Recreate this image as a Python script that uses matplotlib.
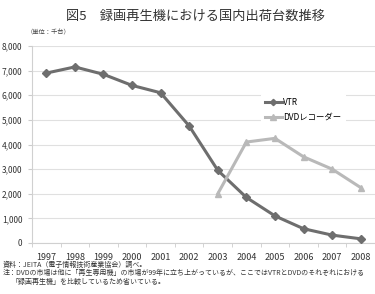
import matplotlib.pyplot as plt
import numpy as np

plt.rcParams['font.family'] = ['Noto Sans CJK JP', 'DejaVu Sans']

years = ['1997', '1998', '1999', '2000', '2001', '2002', '2003', '2004', '2005', '2006', '2007', '2008']
vtr = [6900, 7150, 6850, 6400, 6100, 4750, 2950, 1850, 1100, 580, 320, 170]
dvd_years = ['2003', '2004', '2005', '2006', '2007', '2008']
dvd = [2000, 4100, 4250, 3500, 3000, 2250]

x = np.arange(len(years))
x_dvd = np.array([years.index(y) for y in dvd_years])

fig = plt.figure(figsize=(3.75, 2.94), dpi=100)
ax = fig.add_axes([32/375, 1 - 243/294, 343/375, 197/294])

ax.plot(x, vtr, color='#6e6e6e', lw=2.2, marker='D', ms=4, label='VTR', zorder=3)
ax.plot(x_dvd, dvd, color='#b9b9b9', lw=2.2, marker='^', ms=5, label='DVDレコーダー', zorder=3)

ax.set_xlim(-0.5, len(years) - 0.5)
ax.set_ylim(0, 8000)
ax.set_yticks(np.arange(0, 8001, 1000))
ax.set_yticklabels(['0' if v == 0 else f'{v:,}' for v in range(0, 8001, 1000)])
ax.set_xticks(x)
ax.set_xticklabels(years)
ax.set_xticks(np.arange(-0.5, len(years), 1), minor=True)
ax.tick_params(axis='x', which='major', length=0, labelsize=6.5, pad=7, colors='#333333')
ax.tick_params(axis='x', which='minor', length=3, color='#cccccc')
ax.tick_params(axis='y', length=3, color='#cccccc', labelsize=6, colors='#333333', pad=4)
ax.grid(axis='y', color='#e0e0e0', lw=0.8)
ax.set_axisbelow(True)
for s in ['top', 'right']:
    ax.spines[s].set_visible(False)
ax.spines['left'].set_color('#d0d0d0')
ax.spines['bottom'].set_color('#d0d0d0')

leg = ax.legend(loc='upper left', bbox_to_anchor=(0.655, 0.78), fontsize=6, frameon=True,
                handlelength=2.0, handletextpad=0.2, labelspacing=0.7, borderpad=0.5,
                markerscale=0.8)
leg.get_frame().set_edgecolor('none')
leg.get_frame().set_facecolor('white')
leg.get_frame().set_alpha(1)

fig.text(0.52, 0.945, '図5　録画再生機における国内出荷台数推移', ha='center', va='center', fontsize=9.5, color='#333333')
fig.text(0.07, 0.89, '（単位：千台）', ha='left', va='center', fontsize=4.5, color='#444444')
fig.text(0.008, 0.1, '資料：JEITA（電子情報技術産業協会）調べ。', ha='left', va='center', fontsize=5, color='#333333')
fig.text(0.008, 0.07, '注：DVDの市場は他に「再生専用機」の市場が99年に立ち上がっているが、ここではVTRとDVDのそれぞれにおける',
         ha='left', va='center', fontsize=5, color='#333333')
fig.text(0.03, 0.042, '「録画再生機」を比較しているため省いている。', ha='left', va='center', fontsize=5, color='#333333')

fig.savefig('out.png', dpi=100)
